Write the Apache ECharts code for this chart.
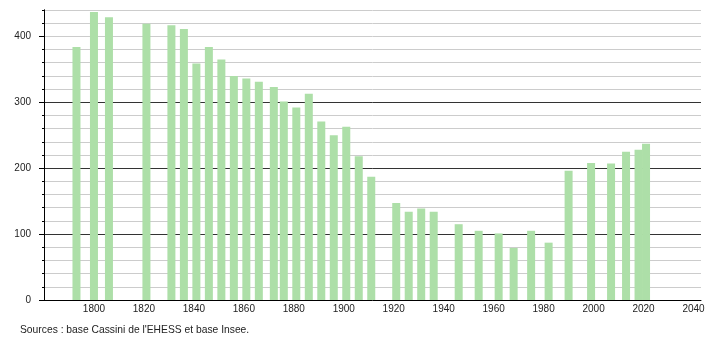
<!DOCTYPE html>
<html>
<head>
<meta charset="utf-8">
<script src="https://cdn.jsdelivr.net/npm/echarts@6/dist/echarts.min.js"></script>
<style>
html,body{margin:0;padding:0;background:#fff;}
#chart{width:710px;height:340px;}
</style>
</head>
<body>
<div id="chart"></div>
<script>
const years = [1793,1800,1806,1821,1831,1836,1841,1846,1851,1856,1861,1866,1872,1876,1881,1886,1891,1896,1901,1906,1911,1921,1926,1931,1936,1946,1954,1962,1968,1975,1982,1990,1999,2007,2013,2018,2021];
const population = [384,437,429,419,417,411,359,384,365,340,336,331,323,301,292,313,271,250,263,218,187,147,134,139,134,115,105,101,79,105,87,196,208,207,225,228,237];
const xTickLabels = [1800,1820,1840,1860,1880,1900,1920,1940,1960,1980,2000,2020,2040];
const yTickLabels = [0,100,200,300,400];
const sourceText = "Sources : base Cassini de l'EHESS et base Insee.";

const chart = echarts.init(document.getElementById('chart'), null, {renderer:'canvas'});
const font = '"Liberation Sans", Arial, sans-serif';
chart.setOption({
  animation:false,
  backgroundColor:'#fff',
  grid:{left:44,right:9,top:10,bottom:40,containLabel:false},
  xAxis:{
    type:'value', min:1780, max:2043,
    axisLine:{show:true,lineStyle:{color:'#000',width:1}},
    axisTick:{show:false},
    splitLine:{show:false},
    axisLabel:{customValues:xTickLabels,formatter:v=>String(v),color:'#222',fontSize:10,fontFamily:font,margin:4}
  },
  yAxis:[{
    type:'value', min:0, max:440, interval:20,
    axisLine:{show:true,lineStyle:{color:'#000',width:1}},
    axisTick:{show:true,length:2,lineStyle:{color:'#000'}},
    axisLabel:{show:false},
    splitLine:{show:true,lineStyle:{color:'#cccccc',width:1}}
  },{
    type:'value', min:0, max:440, interval:100, position:'left',
    axisLine:{show:true,lineStyle:{color:'#000',width:1}},
    axisTick:{show:true,length:5,customValues:yTickLabels,lineStyle:{color:'#000'}},
    axisLabel:{customValues:yTickLabels,formatter:v=>String(v),color:'#222',fontSize:10,fontFamily:font,margin:13},
    splitLine:{show:true,showMaxLine:false,showMinLine:false,lineStyle:{color:'#333',width:1}}
  }],
  series:[{
    type:'bar',
    yAxisIndex:0,
    barWidth:8,
    itemStyle:{color:'#addfa8'},
    data:years.map((y,i)=>[y,population[i]])
  }],
  graphic:[{
    type:'text', left:20, top:325,
    style:{text:sourceText,fill:'#222',font:'10.3px '+font}
  }]
});
</script>
</body>
</html>
